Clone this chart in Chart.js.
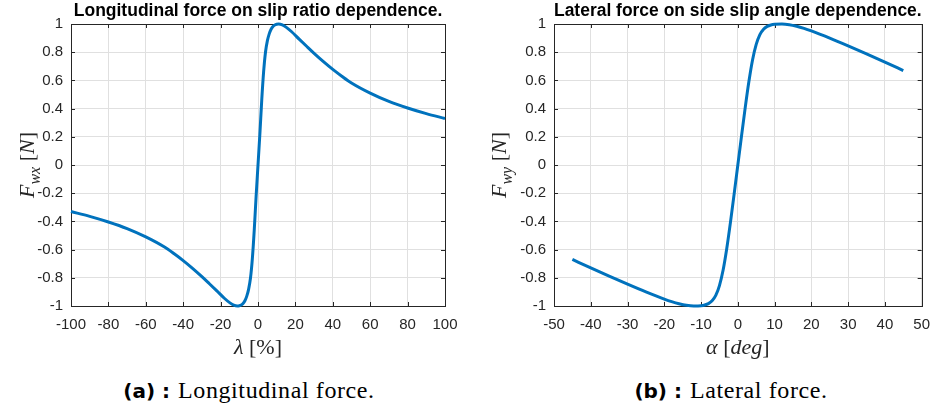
<!DOCTYPE html>
<html><head><meta charset="utf-8">
<script src="https://cdn.jsdelivr.net/npm/chart.js@4/dist/chart.umd.min.js"></script>
<style>
html,body{margin:0;padding:0;background:#fff;width:940px;height:407px;overflow:hidden}
canvas{position:absolute;top:0}
.cap{position:absolute;top:375px;white-space:nowrap;color:#000;transform:translateX(-50%);line-height:30px}
.cap b{font-family:"DejaVu Sans",sans-serif;font-weight:bold;font-size:20px}
.cap span{font-family:"Liberation Serif",serif;font-size:24px;letter-spacing:0.6px}
</style></head><body>
<canvas id="c1" width="470" height="360" style="left:0"></canvas>
<canvas id="c2" width="470" height="360" style="left:470px"></canvas>
<div class="cap" style="left:249px"><b>(a) :</b>&nbsp;&nbsp;<span>Longitudinal force.</span></div>
<div class="cap" style="left:731px"><b>(b) :</b>&nbsp;&nbsp;<span>Lateral force.</span></div>
<script>
// ---- data ----
const slipRatio = [-100,-90,-80,-70,-60,-50,-45,-40,-35,-30,-26,-22,-18,-15,-13,-11,-10,-9,-8,-7,-6,-5,-4,-3,-2,-1,0,1,2,3,4,5,6,7,8,9,10,11,13,15,18,22,26,30,35,40,45,50,60,70,80,90,100];
const forceLong = [-0.33,-0.364,-0.404,-0.451,-0.51,-0.582,-0.628,-0.678,-0.733,-0.792,-0.842,-0.893,-0.945,-0.978,-0.994,-1.0,-0.998,-0.993,-0.982,-0.963,-0.93,-0.88,-0.8,-0.66,-0.46,-0.22,0,0.22,0.46,0.66,0.8,0.88,0.93,0.963,0.982,0.993,0.998,1.0,0.994,0.978,0.945,0.893,0.842,0.792,0.733,0.678,0.628,0.582,0.51,0.451,0.404,0.364,0.33];
const slipAngle = [-45,-40,-35,-30,-25,-20,-18,-16,-14,-12,-10,-9,-8,-7,-6,-5,-4,-3,-2,-1,0,1,2,3,4,5,6,7,8,9,10,12,14,16,18,20,25,30,35,40,45];
const forceLat = [-0.67,-0.73,-0.788,-0.845,-0.9,-0.951,-0.969,-0.984,-0.995,-1.0,-0.998,-0.993,-0.983,-0.963,-0.925,-0.855,-0.745,-0.59,-0.405,-0.205,0,0.205,0.405,0.59,0.745,0.855,0.925,0.963,0.983,0.993,0.998,1.0,0.995,0.984,0.969,0.951,0.9,0.845,0.788,0.73,0.67];
const yTickValues = [-1,-0.8,-0.6,-0.4,-0.2,0,0.2,0.4,0.6,0.8,1];
const xTicksLong = [-100,-80,-60,-40,-20,0,20,40,60,80,100];
const xTicksLat = [-50,-40,-30,-20,-10,0,10,20,30,40,50];
const titleLong = 'Longitudinal force on slip ratio dependence.';
const titleLat = 'Lateral force on side slip angle dependence.';

const AX = '#262626';
const SERIF = '"Liberation Serif", serif';
const SANS = '"Liberation Sans", Arial, sans-serif';

function drawParts(ctx, parts, size, subSize) {
  let w = 0;
  parts.forEach(p => {
    ctx.font = (p.i ? 'italic ' : '') + (p.sub ? subSize : size) + 'px ' + SERIF;
    p.w = ctx.measureText(p.t).width; w += p.w;
  });
  let x = -w / 2;
  parts.forEach(p => {
    ctx.font = (p.i ? 'italic ' : '') + (p.sub ? subSize : size) + 'px ' + SERIF;
    ctx.fillText(p.t, x, p.sub ? size * 0.26 : 0);
    x += p.w;
  });
}

function framePlugin(cfg) {
  return {
    id: 'frame',
    beforeDatasetsDraw(chart) {
      const {ctx, chartArea: a, scales: {x, y}} = chart;
      ctx.save();
      ctx.strokeStyle = AX; ctx.lineWidth = 1;
      ctx.beginPath();
      x.ticks.forEach(t => {
        const px = Math.round(x.getPixelForValue(t.value)) + 0.5;
        ctx.moveTo(px, a.bottom); ctx.lineTo(px, a.bottom - 4);
        ctx.moveTo(px, a.top); ctx.lineTo(px, a.top + 4);
      });
      y.ticks.forEach(t => {
        const py = Math.round(y.getPixelForValue(t.value)) + 0.5;
        ctx.moveTo(a.left, py); ctx.lineTo(a.left + 4, py);
        ctx.moveTo(a.right, py); ctx.lineTo(a.right - 4, py);
      });
      ctx.stroke();
      ctx.strokeRect(Math.round(a.left) + 0.5, Math.round(a.top) + 0.5, Math.round(a.right - a.left), Math.round(a.bottom - a.top));
      ctx.restore();
    },
    afterDraw(chart) {
      const {ctx, chartArea: a} = chart;
      ctx.save();
      ctx.fillStyle = AX; ctx.textBaseline = 'alphabetic'; ctx.textAlign = 'left';
      ctx.save();
      ctx.translate((a.left + a.right) / 2, cfg.xBase);
      drawParts(ctx, cfg.xParts, 22, 15);
      ctx.restore();
      ctx.save();
      ctx.translate(cfg.yBase, (a.top + a.bottom) / 2);
      ctx.rotate(-Math.PI / 2);
      drawParts(ctx, cfg.yParts, 22, 16);
      ctx.restore();
      ctx.restore();
    }
  };
}

function makeChart(id, xs, ys, xTicks, title, leftW, rightPad, cfg) {
  const xMin = xTicks[0], xMax = xTicks[xTicks.length - 1];
  return new Chart(document.getElementById(id), {
    type: 'line',
    data: {
      datasets: [{
        data: xs.map((v, i) => ({x: v, y: ys[i]})),
        borderColor: '#0072BD', borderWidth: 3, pointRadius: 0,
        cubicInterpolationMode: 'monotone', fill: false, clip: false
      }]
    },
    options: {
      responsive: false, animation: false, events: [],
      layout: {padding: {left: 0, right: rightPad, top: 0, bottom: 0}},
      plugins: {
        legend: {display: false}, tooltip: {enabled: false},
        title: {
          display: true, text: title, fullSize: false, color: '#000',
          font: {family: SANS, size: 17.5, weight: 'bold', lineHeight: 1.2},
          padding: {top: 1, bottom: 2}
        }
      },
      scales: {
        x: {
          type: 'linear', min: xMin, max: xMax,
          afterBuildTicks: s => { s.ticks = xTicks.map(v => ({value: v})); },
          afterFit: s => { s.height = 54; },
          grid: {color: '#e0e0e0', drawTicks: false},
          border: {display: false},
          ticks: {color: AX, font: {family: SANS, size: 15}, padding: 10, autoSkip: false, maxRotation: 0,
                  callback: v => String(v)}
        },
        y: {
          type: 'linear', min: -1, max: 1,
          afterBuildTicks: s => { s.ticks = yTickValues.map(v => ({value: v})); },
          afterFit: s => { s.width = leftW; },
          grid: {color: '#e0e0e0', drawTicks: false},
          border: {display: false},
          ticks: {color: AX, font: {family: SANS, size: 15}, padding: 8, autoSkip: false,
                  callback: v => String(Math.round(v * 10) / 10)}
        }
      }
    },
    plugins: [framePlugin(cfg)]
  });
}

makeChart('c1', slipRatio, forceLong, xTicksLong, titleLong, 71, 25, {
  xBase: 354, yBase: 34,
  xParts: [{t: 'λ', i: true}, {t: ' [%]', i: false}],
  yParts: [{t: 'F', i: true}, {t: 'wx', i: true, sub: true}, {t: ' [', i: false}, {t: 'N', i: true}, {t: ']', i: false}]
});
makeChart('c2', slipAngle, forceLat, xTicksLat, titleLat, 84, 13, {
  xBase: 354, yBase: 36,
  xParts: [{t: 'α', i: true}, {t: ' [', i: false}, {t: 'deg', i: true}, {t: ']', i: false}],
  yParts: [{t: 'F', i: true}, {t: 'wy', i: true, sub: true}, {t: ' [', i: false}, {t: 'N', i: true}, {t: ']', i: false}]
});
</script>
</body></html>
